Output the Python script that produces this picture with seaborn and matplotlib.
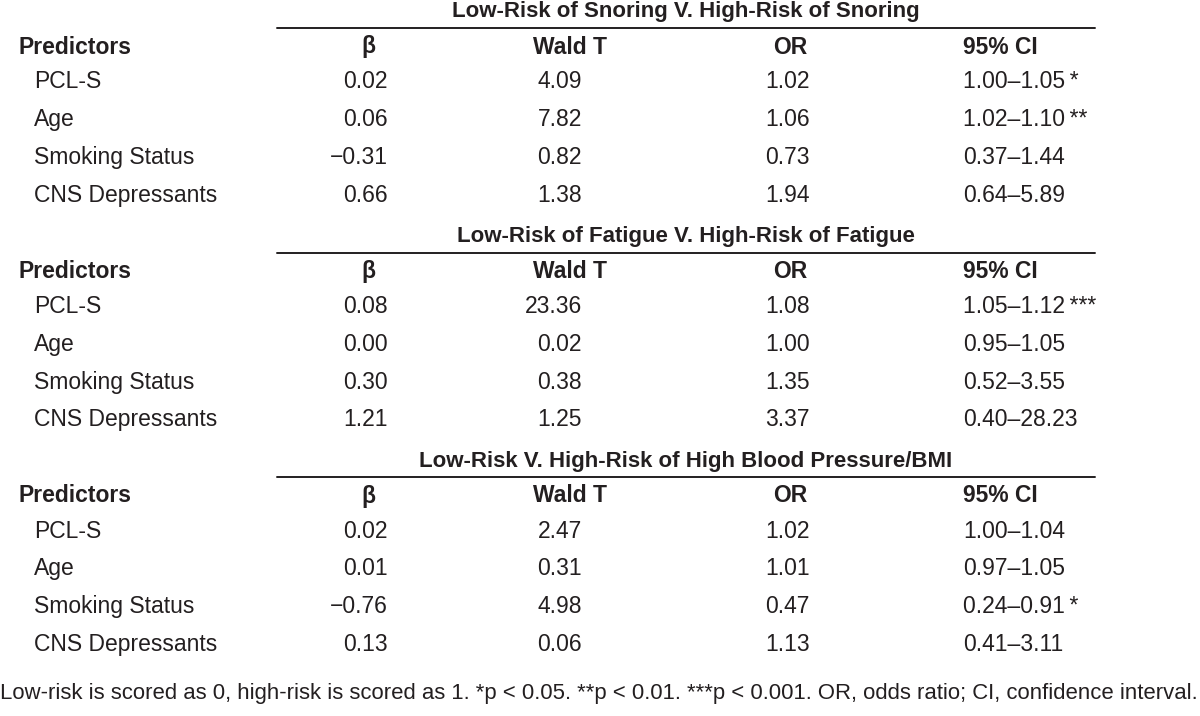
import matplotlib
matplotlib.use("Agg")
import matplotlib.pyplot as plt
import seaborn as sns

# table content
sections = [
    "Low-Risk of Snoring V. High-Risk of Snoring",
    "Low-Risk of Fatigue V. High-Risk of Fatigue",
    "Low-Risk V. High-Risk of High Blood Pressure/BMI",
]
headers = ["Predictors", "\u03b2", "Wald T", "OR", "95% CI"]
predictors = ["PCL-S", "Age", "Smoking Status", "CNS Depressants"]

beta = [[0.02, 0.06, -0.31, 0.66], [0.08, 0.00, 0.30, 1.21], [0.02, 0.01, -0.76, 0.13]]
wald_t = [[4.09, 7.82, 0.82, 1.38], [23.36, 0.02, 0.38, 1.25], [2.47, 0.31, 4.98, 0.06]]
odds_ratio = [[1.02, 1.06, 0.73, 1.94], [1.08, 1.00, 1.35, 3.37], [1.02, 1.01, 0.47, 1.13]]
ci_low = [[1.00, 1.02, 0.37, 0.64], [1.05, 0.95, 0.52, 0.40], [1.00, 0.97, 0.24, 0.41]]
ci_high = [[1.05, 1.10, 1.44, 5.89], [1.12, 1.05, 3.55, 28.23], [1.04, 1.05, 0.91, 3.11]]
stars = [["*", "**", "", ""], ["***", "", "", ""], ["", "", "*", ""]]

footnote = ("Low-risk is scored as 0, high-risk is scored as 1. *p < 0.05. **p < 0.01. "
            "***p < 0.001. OR, odds ratio; CI, confidence interval.")

sns.set_theme(style="white")
plt.rcParams["font.family"] = ["Liberation Sans", "DejaVu Sans"]

ink = "#231f20"
fs = 16.5


def fmt(v):
    return f"{v:.2f}".replace("-", "\u2212")


fig = plt.figure(figsize=(12, 7.16), dpi=100)
ax = fig.add_axes([0, 0, 1, 1])
ax.set_xlim(0, 1200)
ax.set_ylim(716, 0)
ax.set_axis_off()

# column layout (pixels)
x_pred, x_label = 18, 34
x_beta_h, x_beta = 368, 388
x_wald_h, x_wald = 570, 582
x_or_h, x_or = 790, 810
x_ci_h, x_ci = 1000, 963
rule_x0, rule_x1 = 277, 1095

block, row_h = 224.5, 37.8

for s, title in enumerate(sections):
    y0 = 12 + s * block
    ax.text((rule_x0 + rule_x1) / 2, y0, title, ha="center", va="center",
            fontsize=16, fontweight="bold", color=ink)
    ax.plot([rule_x0, rule_x1], [y0 + 16, y0 + 16], color=ink, lw=1.4)
    yh = y0 + 35
    ax.text(x_pred, yh, headers[0], ha="left", va="center", fontsize=fs, fontweight="bold", color=ink)
    for xh, h in zip([x_beta_h, x_wald_h, x_or_h, x_ci_h], headers[1:]):
        ax.text(xh, yh, h, ha="center", va="center", fontsize=fs, fontweight="bold", color=ink)
    for i, p in enumerate(predictors):
        y = y0 + 70 + i * row_h
        ax.text(x_label, y, p, ha="left", va="center", fontsize=fs, color=ink)
        ax.text(x_beta, y, fmt(beta[s][i]), ha="right", va="center", fontsize=fs, color=ink)
        ax.text(x_wald, y, fmt(wald_t[s][i]), ha="right", va="center", fontsize=fs, color=ink)
        ax.text(x_or, y, fmt(odds_ratio[s][i]), ha="right", va="center", fontsize=fs, color=ink)
        ci = fmt(ci_low[s][i]) + "\u2013" + fmt(ci_high[s][i])
        if stars[s][i]:
            ci += "\u2009" + stars[s][i]
        ax.text(x_ci, y, ci, ha="left", va="center", fontsize=fs, color=ink)

ax.text(0, 694, footnote, ha="left", va="center", fontsize=15.9, color=ink)

fig.savefig("out.png", dpi=100, facecolor="white")
